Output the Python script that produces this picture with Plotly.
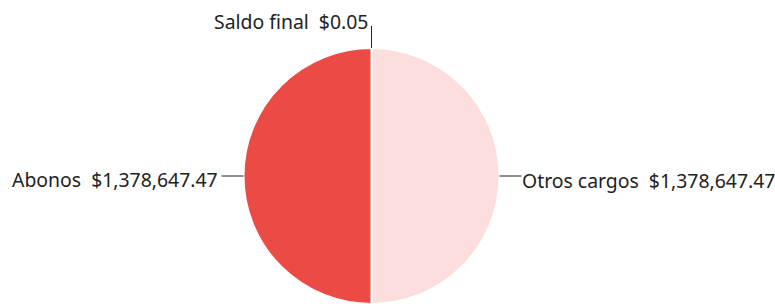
import math
import plotly.graph_objects as go

labels = ["Saldo final", "Otros cargos", "Abonos"]
values = [0.05, 1378647.47, 1378647.47]
colors = ["#9E9E9E", "#FCDEDC", "#EC4A45"]

W, H = 775, 304
cx, cy, r = 371.5, 176.0, 128.0
FONT = "Noto Sans"
FS = 19.4

def px(x):
    return x / W

def py(y):
    return (H - y) / H

fig = go.Figure(go.Pie(
    labels=labels, values=values, sort=False, direction="clockwise", rotation=0,
    marker=dict(colors=colors, line=dict(color="#FFFFFF", width=2)),
    textinfo="none", hoverinfo="label+value", showlegend=False,
    domain=dict(x=[px(cx - r), px(cx + r)], y=[max(0, py(cy + r)), min(1, py(cy - r))]),
))

shapes, annos = [], []
total = sum(values)
cum = 0.0
for lab, v in zip(labels, values):
    mid = (cum + v / 2) / total * 2 * math.pi
    cum += v
    ex, ey = cx + r * math.sin(mid), cy - r * math.cos(mid)
    txt = f"{lab}\u00a0\u00a0${v:,.2f}"
    if abs(math.sin(mid)) > 0.5:
        sgn = 1 if math.sin(mid) > 0 else -1
        lx = ex + sgn * 22
        shapes.append(dict(type="line", xref="paper", yref="paper", x0=px(ex), y0=py(ey),
                           x1=px(lx), y1=py(ey), line=dict(color="#222", width=1)))
        gap = -1 if sgn > 0 else 2
        annos.append(dict(x=px(lx + sgn * gap), y=py(ey + 4), xref="paper", yref="paper", text=txt,
                          showarrow=False, xanchor="left" if sgn > 0 else "right", yanchor="middle"))
    else:
        ly = ey - 22
        shapes.append(dict(type="line", xref="paper", yref="paper", x0=px(ex), y0=py(ey),
                           x1=px(ex), y1=py(ly), line=dict(color="#222", width=1)))
        annos.append(dict(x=px(ex - 2), y=py(ly - 5), xref="paper", yref="paper", text=txt,
                          showarrow=False, xanchor="right", yanchor="middle"))

fig.update_layout(
    width=W, height=H, margin=dict(l=0, r=0, t=0, b=0),
    paper_bgcolor="white", plot_bgcolor="white",
    font=dict(family=FONT, size=FS, color="#222"),
    shapes=shapes, annotations=annos,
)
fig.write_html("out.html", config={"displayModeBar": False},
               post_script="document.body.style.margin='0';")
